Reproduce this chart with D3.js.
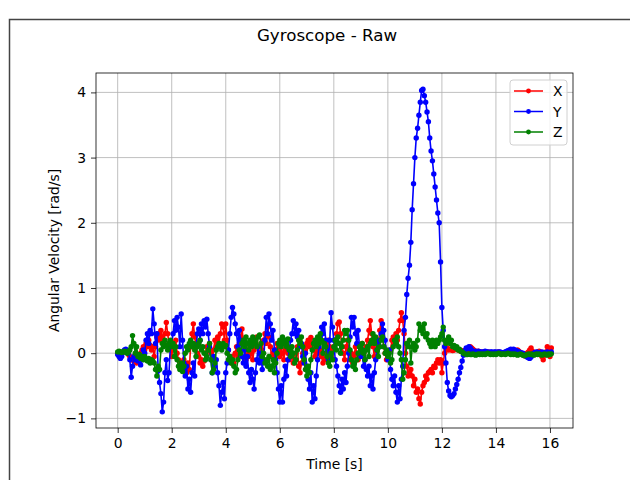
<!DOCTYPE html>
<html>
<head>
<meta charset="utf-8">
<script src="https://cdn.jsdelivr.net/npm/d3@7"></script>
<style>
  body { margin: 0; background: #fff; }
  text { font-family: "DejaVu Sans", sans-serif; fill: #000; }
</style>
</head>
<body>
<div id="chart"></div>
<script>
// sample period of the gyro log [s]
const dt = 0.05;

const seriesNames = ['X', 'Y', 'Z'];
const seriesColors = ['#ff0000', '#0000ff', '#008000'];
const xTicks = [0, 2, 4, 6, 8, 10, 12, 14, 16];
const yTicks = [-1, 0, 1, 2, 3, 4];

const gyroX = [
  0.0, 0.0, 0.01, 0.0, 0.02, 0.03, 0.02, 0.01, -0.02, -0.05, -0.1, -0.08, -0.12, -0.05, -0.15, -0.1, -0.05, 0.0, 0.05, 0.1,
  0.05, 0.15, 0.1, 0.2, 0.12, 0.05, 0.1, -0.05, 0.1, 0.25, 0.3, 0.2, 0.35, 0.25, 0.15, 0.3, 0.47, 0.3, 0.15, 0.05,
  -0.05, 0.1, 0.05, 0.2, 0.0, -0.1, -0.2, -0.15, -0.25, -0.1, -0.2, -0.3, -0.15, -0.25, 0.1, 0.3, 0.45, 0.25, 0.1, 0.0,
  -0.05, -0.15, -0.1, -0.2, -0.12, 0.0, 0.1, 0.05, 0.15, 0.0, -0.1, 0.05, 0.2, 0.1, 0.25, 0.15, 0.3, 0.45, 0.4, 0.2,
  0.45, 0.2, 0.05, -0.1, -0.15, -0.05, -0.15, 0.0, 0.1, -0.05, 0.15, 0.25, 0.37, 0.2, 0.05, -0.1, 0.05, -0.05, 0.1, 0.0,
  -0.1, 0.05, 0.15, 0.25, 0.1, 0.0, -0.1, 0.05, 0.2, 0.3, 0.15, 0.4, 0.25, 0.1, -0.05, 0.0, -0.1, 0.05, 0.15, 0.05,
  -0.05, 0.1, 0.0, -0.1, 0.05, 0.15, 0.0, -0.1, 0.05, -0.05, -0.15, -0.1, 0.0, 0.1, -0.2, -0.3, -0.15, 0.0, 0.1, 0.05,
  0.15, 0.2, 0.1, 0.24, 0.15, 0.05, -0.05, 0.1, 0.0, 0.15, 0.05, -0.05, -0.15, -0.1, 0.0, 0.1, 0.2, 0.1, -0.05, 0.05,
  0.1, 0.2, 0.3, 0.45, 0.48, 0.3, 0.1, 0.0, -0.1, 0.1, 0.2, 0.05, -0.1, 0.0, -0.15, -0.05, 0.1, 0.0, -0.1, -0.05,
  0.05, 0.15, 0.0, -0.1, 0.1, 0.2, 0.35, 0.5, 0.3, 0.1, -0.05, 0.05, 0.2, 0.1, 0.35, 0.5, 0.3, 0.1, 0.0, -0.1,
  0.0, -0.1, 0.05, 0.2, 0.25, 0.15, 0.3, 0.2, 0.35, 0.5, 0.62, 0.5, 0.3, 0.0, -0.2, -0.35, -0.3, -0.25, -0.35, -0.5,
  -0.4, -0.6, -0.55, -0.7, -0.78, -0.6, -0.5, -0.45, -0.35, -0.4, -0.3, -0.28, -0.25, -0.3, -0.2, -0.22, -0.15, -0.1, -0.15, -0.1,
  -0.3, -0.15, 0.0, 0.05, 0.08, 0.05, 0.06, 0.05, 0.04, 0.05, 0.06, 0.07, 0.05, 0.04, 0.03, 0.04, 0.03, 0.02, 0.03, 0.02,
  0.08, 0.1, 0.08, 0.06, 0.04, 0.03, 0.02, 0.03, 0.02, 0.01, 0.02, 0.01, 0.0, 0.01, 0.02, 0.01, 0.0, 0.01, 0.0, 0.01,
  0.0, 0.01, 0.02, 0.01, 0.0, -0.01, 0.0, 0.01, 0.02, 0.03, 0.02, 0.01, 0.0, 0.01, 0.02, 0.03, 0.05, 0.03, 0.01, 0.0,
  -0.02, -0.04, -0.03, 0.0, 0.02, 0.05, 0.08, 0.03, 0.0, -0.02, 0.0, 0.02, 0.03, 0.01, -0.05, -0.1, -0.03, 0.02, 0.1, 0.05,
  -0.05, 0.08
];

const gyroY = [
  -0.02, -0.05, -0.08, -0.05, 0.02, 0.05, 0.06, 0.04, 0.0, -0.1, -0.37, -0.2, -0.05, -0.1, -0.02, -0.12, -0.08, -0.18, -0.1, 0.05,
  0.0, 0.2, 0.3, 0.15, 0.35, 0.3, 0.68, 0.45, 0.15, 0.3, -0.27, -0.45, -0.62, -0.9, -0.75, -0.3, -0.1, -0.42, -0.3, 0.1,
  0.15, 0.3, 0.5, 0.35, 0.55, 0.4, 0.1, 0.6, 0.2, -0.15, -0.35, -0.2, -0.55, -0.4, -0.6, -0.3, -0.15, -0.35, 0.1, 0.3,
  0.37, 0.2, 0.45, 0.3, 0.5, 0.4, 0.52, 0.3, 0.1, -0.1, -0.3, -0.05, -0.2, -0.1, -0.3, -0.5, -0.8, -0.6, -0.45, -0.7,
  -0.3, -0.15, 0.05, 0.3, 0.55, 0.7, 0.6, 0.45, 0.3, 0.1, 0.35, 0.2, -0.05, -0.15, 0.05, -0.2, -0.05, -0.3, -0.45, -0.25,
  -0.4, -0.55, -0.3, -0.1, 0.1, -0.15, 0.0, -0.25, -0.1, 0.2, 0.55, 0.3, 0.6, 0.45, 0.2, 0.35, 0.05, -0.1, -0.3, -0.55,
  -0.75, -0.5, -0.75, -0.4, -0.2, -0.35, -0.1, 0.05, 0.2, 0.3, 0.5, 0.3, 0.45, 0.25, 0.35, 0.1, 0.15, -0.05, -0.15, 0.0,
  -0.2, -0.4, -0.55, -0.3, -0.75, -0.5, -0.7, -0.35, -0.1, 0.1, 0.25, 0.4, 0.3, 0.45, 0.2, 0.05, -0.1, 0.2, 0.62, 0.4,
  0.2, -0.1, -0.2, -0.35, -0.5, -0.6, -0.4, -0.55, -0.3, -0.45, -0.2, 0.0, 0.25, 0.55, 0.4, 0.55, 0.3, 0.15, 0.35, 0.1,
  -0.05, 0.05, -0.2, -0.1, -0.25, -0.35, -0.2, -0.5, -0.35, -0.55, -0.3, -0.1, 0.05, 0.2, 0.1, 0.3, 0.45, 0.35, 0.2, 0.0,
  -0.1, 0.05, -0.25, -0.4, -0.5, -0.35, -0.6, -0.75, -0.5, -0.7, -0.4, -0.2, 0.35, 0.55, 0.9, 1.15, 1.35, 1.7, 2.2, 2.6,
  3.0, 3.3, 3.45, 3.65, 3.85, 4.03, 4.05, 3.95, 3.85, 3.7, 3.55, 3.3, 3.1, 2.95, 2.75, 2.55, 2.35, 2.15, 2.0, 1.4,
  0.7, 0.35, 0.1, -0.15, -0.45, -0.58, -0.65, -0.67, -0.65, -0.62, -0.55, -0.48, -0.4, -0.3, -0.22, -0.12, -0.03, 0.04, 0.08, 0.07,
  0.1, 0.08, 0.05, 0.03, 0.02, 0.03, 0.02, 0.03, 0.02, 0.02, 0.01, 0.02, 0.03, 0.02, 0.02, 0.01, 0.02, 0.02, 0.01, 0.02,
  0.02, 0.01, 0.02, 0.02, 0.01, 0.0, 0.01, 0.02, 0.03, 0.04, 0.05, 0.06, 0.05, 0.06, 0.05, 0.04, 0.03, 0.02, 0.01, 0.0,
  0.0, -0.02, -0.04, -0.06, -0.07, -0.08, -0.06, -0.03, 0.0, 0.01, 0.02, 0.01, 0.0, 0.01, 0.02, 0.01, 0.0, 0.01, 0.02, 0.0,
  0.01, 0.02
];

const gyroZ = [
  0.02, 0.03, 0.02, 0.01, 0.02, 0.03, 0.02, 0.0, 0.02, 0.05, 0.1, 0.27, 0.15, 0.0, 0.1, -0.05, -0.02, -0.08, -0.05, -0.1,
  -0.05, -0.1, -0.12, -0.08, -0.15, -0.1, -0.12, -0.15, -0.25, -0.35, -0.2, -0.25, 0.05, 0.15, 0.1, 0.2, 0.12, 0.05, 0.15, 0.2,
  0.1, 0.15, -0.05, 0.1, -0.1, -0.2, -0.25, -0.15, -0.28, -0.2, 0.0, 0.1, 0.05, 0.15, 0.2, 0.1, 0.15, 0.05, -0.05, 0.1,
  0.15, 0.2, 0.05, 0.1, 0.0, -0.1, -0.05, 0.05, 0.15, -0.1, -0.3, -0.25, -0.15, 0.05, 0.1, 0.15, 0.1, 0.05, 0.15, 0.1,
  0.12, 0.0, -0.1, -0.05, -0.15, -0.1, -0.2, -0.3, -0.25, -0.1, 0.05, 0.0, 0.15, 0.2, 0.1, 0.25, 0.15, 0.05, 0.2, 0.1,
  0.25, 0.15, 0.2, 0.1, 0.25, 0.28, 0.15, -0.05, 0.0, -0.15, -0.1, -0.2, -0.05, -0.25, -0.2, -0.1, -0.3, -0.15, 0.0, 0.15,
  0.2, 0.1, 0.25, 0.15, 0.2, 0.1, 0.22, 0.05, -0.05, 0.1, 0.0, -0.15, -0.1, 0.05, 0.2, 0.15, 0.25, 0.1, -0.1, -0.25,
  -0.35, -0.2, -0.3, -0.1, 0.05, 0.15, 0.2, 0.1, 0.25, 0.15, 0.3, 0.2, 0.0, 0.15, 0.1, -0.05, -0.15, -0.2, 0.0, -0.1,
  0.1, 0.2, 0.05, 0.25, 0.15, 0.0, 0.1, 0.2, 0.35, 0.3, 0.35, 0.2, 0.05, -0.1, -0.2, -0.15, -0.25, -0.1, 0.0, 0.1,
  0.05, 0.15, 0.0, -0.1, 0.05, 0.1, -0.05, 0.15, 0.2, 0.3, 0.15, 0.25, 0.05, -0.05, 0.1, 0.2, 0.25, 0.1, 0.0, 0.05,
  -0.05, 0.0, -0.15, -0.1, 0.1, 0.2, 0.15, 0.25, 0.1, 0.0, -0.1, -0.4, -0.3, -0.1, 0.15, 0.1, 0.2, -0.15, 0.1, 0.15,
  0.05, 0.1, 0.2, 0.45, 0.35, 0.4, 0.3, 0.45, 0.25, 0.3, 0.2, 0.15, 0.1, 0.2, 0.15, 0.1, 0.2, 0.15, 0.2, 0.25,
  0.3, 0.4, 0.2, 0.15, 0.2, 0.25, 0.15, 0.2, 0.1, 0.12, 0.08, 0.1, 0.05, 0.06, 0.03, 0.02, 0.0, -0.01, -0.02, -0.02,
  -0.01, -0.02, -0.02, -0.01, -0.02, -0.03, -0.02, -0.01, -0.02, -0.01, -0.02, -0.01, -0.02, -0.01, 0.0, -0.01, -0.02, -0.01, -0.02, -0.01,
  -0.02, -0.01, 0.0, -0.01, -0.02, -0.01, -0.01, -0.02, -0.01, 0.0, -0.01, -0.02, -0.01, -0.02, -0.01, -0.02, -0.03, -0.02, -0.01, -0.02,
  -0.03, -0.04, -0.03, -0.02, -0.01, -0.02, -0.01, -0.02, -0.03, -0.02, -0.01, -0.02, -0.01, -0.02, -0.03, -0.02, -0.01, -0.02, -0.03, -0.01,
  -0.02, -0.01
];

function renderGyroChart() {
  const width = 630, height = 480;
  const margin = { left: 96, right: 57, top: 73, bottom: 52 };
  const innerW = width - margin.left - margin.right;
  const innerH = height - margin.top - margin.bottom;

  const allSeries = [gyroX, gyroY, gyroZ];

  // matplotlib style 5% padding around data extent
  const tMax = (gyroX.length - 1) * dt;
  const xPad = tMax * 0.05;
  const yMin = d3.min(allSeries, s => d3.min(s));
  const yMax = d3.max(allSeries, s => d3.max(s));
  const yPad = (yMax - yMin) * 0.05;

  const x = d3.scaleLinear().domain([-xPad, tMax + xPad]).range([0, innerW]);
  const y = d3.scaleLinear().domain([yMin - yPad, yMax + yPad]).range([innerH, 0]);

  const svg = d3.select('#chart')
    .append('svg')
    .attr('width', width)
    .attr('height', height);

  svg.append('rect')
    .attr('width', width)
    .attr('height', height)
    .style('fill', '#fff');

  // figure window frame
  svg.append('rect')
    .attr('x', 9.5)
    .attr('y', 19.5)
    .attr('width', 700)
    .attr('height', 600)
    .style('fill', 'none')
    .style('stroke', '#444')
    .style('stroke-width', 1.5);

  svg.append('text')
    .text('Gyroscope - Raw')
    .attr('x', 327)
    .attr('y', 41)
    .attr('text-anchor', 'middle')
    .attr('font-size', '16.7px');

  const g = svg.append('g')
    .attr('transform', `translate(${margin.left},${margin.top})`);

  // grid
  g.append('g')
    .selectAll('line')
    .data(xTicks)
    .join('line')
    .attr('x1', d => x(d)).attr('x2', d => x(d))
    .attr('y1', 0).attr('y2', innerH)
    .style('stroke', '#b0b0b0')
    .style('stroke-width', 0.8);

  g.append('g')
    .selectAll('line')
    .data(yTicks)
    .join('line')
    .attr('x1', 0).attr('x2', innerW)
    .attr('y1', d => y(d)).attr('y2', d => y(d))
    .style('stroke', '#b0b0b0')
    .style('stroke-width', 0.8);

  // axes
  const xAxis = g.append('g')
    .attr('transform', `translate(0,${innerH})`)
    .call(d3.axisBottom(x).tickValues(xTicks).tickSize(5).tickPadding(5));

  const yAxis = g.append('g')
    .call(d3.axisLeft(y).tickValues(yTicks).tickSize(5).tickPadding(5)
      .tickFormat(d => d < 0 ? '\u2212' + Math.abs(d) : d));

  [xAxis, yAxis].forEach(ax => {
    ax.select('.domain').remove();
    ax.selectAll('line').style('stroke', '#000').style('stroke-width', 0.8);
    ax.selectAll('text')
      .attr('font-size', '13.9px')
      .style('font-family', '"DejaVu Sans", sans-serif');
  });

  // series
  const line = d3.line()
    .x((d, i) => x(i * dt))
    .y(d => y(d));

  const plot = g.append('g');

  allSeries.forEach((series, k) => {
    plot.append('path')
      .datum(series)
      .attr('d', line)
      .style('fill', 'none')
      .style('stroke', seriesColors[k])
      .style('stroke-width', 1.6)
      .style('stroke-linejoin', 'round');

    plot.append('g')
      .selectAll('circle')
      .data(series)
      .join('circle')
      .attr('cx', (d, i) => x(i * dt))
      .attr('cy', d => y(d))
      .attr('r', 2.7)
      .style('fill', seriesColors[k]);
  });

  // spines
  g.append('rect')
    .attr('width', innerW)
    .attr('height', innerH)
    .style('fill', 'none')
    .style('stroke', '#000')
    .style('stroke-width', 0.8);

  // axis labels
  svg.append('text')
    .text('Time [s]')
    .attr('x', margin.left + innerW / 2)
    .attr('y', 469)
    .attr('text-anchor', 'middle')
    .attr('font-size', '13.9px');

  svg.append('text')
    .text('Angular Velocity [rad/s]')
    .attr('transform', `translate(59,${margin.top + innerH / 2}) rotate(-90)`)
    .attr('text-anchor', 'middle')
    .attr('font-size', '13.9px');

  // legend
  const legend = g.append('g')
    .attr('transform', `translate(${innerW - 63},7)`);

  legend.append('rect')
    .attr('width', 57)
    .attr('height', 65)
    .attr('rx', 3)
    .style('fill', 'rgba(255,255,255,0.8)')
    .style('stroke', '#d0d0d0')
    .style('stroke-width', 1);

  seriesNames.forEach((name, k) => {
    const item = legend.append('g')
      .attr('transform', `translate(4,${11 + k * 20.5})`);

    item.append('line')
      .attr('x1', 0).attr('x2', 29)
      .style('stroke', seriesColors[k])
      .style('stroke-width', 1.5);

    item.append('circle')
      .attr('cx', 14.5)
      .attr('r', 2.4)
      .style('fill', seriesColors[k]);

    item.append('text')
      .text(name)
      .attr('x', 39)
      .attr('y', 5)
      .attr('font-size', '13.9px');
  });
}

renderGyroChart();
</script>
</body>
</html>
